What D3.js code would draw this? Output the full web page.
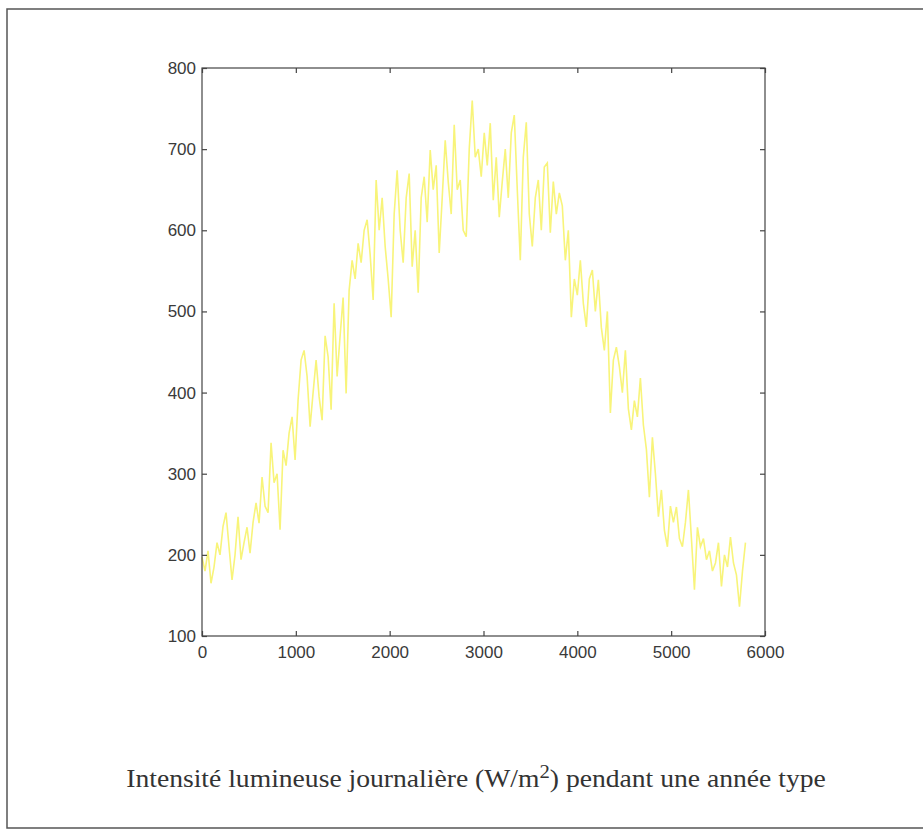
<!DOCTYPE html>
<html lang="fr">
<head>
<meta charset="UTF-8">
<title>Intensité lumineuse journalière</title>
<script src="https://d3js.org/d3.v7.min.js"></script>
<style>
  body { margin: 0; background: #fff; }
</style>
</head>
<body>
<svg id="chart" width="923" height="832"></svg>
<script>
// x step between two samples (one per day)
const xStep = 32;

// daily intensity (W/m2), 1000 units per row
const intensity0 = [197,180,205,165,185,215,200,235,252,210,169,200,247,194,215,234,202,240,264,239,296,260,252,338,289,300,231,329,310,350,370,317];
const intensity1 = [391,440,452,420,358,400,440,395,366,470,444,379,510,420,470,517,399,526,563,540,584,560,600,613,570,514,662,600,640,580,540,493];
const intensity2 = [620,674,600,560,640,670,555,600,523,640,666,610,699,650,680,572,640,711,660,620,730,650,662,600,592,700,760,690,700,666,720,680];
const intensity3 = [732,637,690,616,660,700,640,720,742,650,563,690,733,620,580,640,662,600,678,683,597,660,620,646,630,563,600,493,540,520,563,510];
const intensity4 = [481,540,551,500,539,480,452,500,375,440,456,432,400,452,380,354,390,370,418,360,330,271,345,300,247,280,230,210,260,240,259,220];
const intensity5 = [210,240,280,220,157,234,210,220,194,205,180,190,215,161,200,185,222,190,175,136,180,215];

const xTicks = [0, 1000, 2000, 3000, 4000, 5000, 6000];
const yTicks = [100, 200, 300, 400, 500, 600, 700, 800];

const values = [].concat(intensity0, intensity1, intensity2, intensity3, intensity4, intensity5);
const data = values.map((v, i) => ({ x: i * xStep, y: v }));

const svg = d3.select('#chart');
const margin = { top: 68, right: 158, bottom: 196, left: 202 };
const width = 923 - margin.left - margin.right;
const height = 832 - margin.top - margin.bottom;

// outer frame of the scanned figure (right side is cut off)
svg.append('rect')
    .attr('x', 7).attr('y', 9)
    .attr('width', 940).attr('height', 819)
    .attr('fill', 'none')
    .attr('stroke', '#555')
    .attr('stroke-width', 1.5);

const x = d3.scaleLinear().domain([0, 6000]).range([margin.left, margin.left + width]);
const y = d3.scaleLinear().domain([100, 800]).range([margin.top + height, margin.top]);

// the line
const line = d3.line().x(d => x(d.x)).y(d => y(d.y));
svg.append('path')
    .datum(data)
    .attr('fill', 'none')
    .attr('stroke', '#f8f47a')
    .attr('stroke-width', 1.6)
    .attr('d', line);

// matlab-like box with inward ticks
const tickLen = 5;
const axisColor = '#444';

svg.append('rect')
    .attr('x', margin.left).attr('y', margin.top)
    .attr('width', width).attr('height', height)
    .attr('fill', 'none')
    .attr('stroke', axisColor)
    .attr('stroke-width', 1.2);

const bottomAxis = svg.append('g')
    .attr('transform', `translate(0,${margin.top + height})`)
    .call(d3.axisBottom(x).tickValues(xTicks).tickSizeInner(-tickLen).tickSizeOuter(0).tickPadding(10).tickFormat(d3.format('d')));

const topAxis = svg.append('g')
    .attr('transform', `translate(0,${margin.top})`)
    .call(d3.axisTop(x).tickValues(xTicks).tickSizeInner(-tickLen).tickSizeOuter(0).tickFormat(''));

const leftAxis = svg.append('g')
    .attr('transform', `translate(${margin.left},0)`)
    .call(d3.axisLeft(y).tickValues(yTicks).tickSizeInner(-tickLen).tickSizeOuter(0).tickPadding(6).tickFormat(d3.format('d')));

const rightAxis = svg.append('g')
    .attr('transform', `translate(${margin.left + width},0)`)
    .call(d3.axisRight(y).tickValues(yTicks).tickSizeInner(-tickLen).tickSizeOuter(0).tickFormat(''));

[bottomAxis, topAxis, leftAxis, rightAxis].forEach(g => {
    g.select('.domain').remove();
    g.selectAll('line').attr('stroke', axisColor).attr('stroke-width', 1.2);
    g.selectAll('text')
        .attr('fill', '#3a3a3a')
        .style('font-family', "'Liberation Sans', Arial, sans-serif")
        .style('font-size', '17px');
});

// caption under the chart: tall but narrow Times, like the scan
const captionX = 476;
const capSize = 25;
const caption = svg.append('text')
    .attr('x', captionX)
    .attr('y', 787)
    .attr('text-anchor', 'middle')
    .attr('fill', '#333')
    .style('font-family', "'Liberation Serif', 'Times New Roman', serif")
    .style('font-size', capSize + 'px');
caption.append('tspan').text('Intensité lumineuse journalière (W/m');
caption.append('tspan').attr('dy', -9).style('font-size', (capSize * 0.75) + 'px').text('2');
caption.append('tspan').attr('dy', 9).text(') pendant une année type');

// squeeze it horizontally to the width it has in the scan
const wanted = 700;
const got = caption.node().getComputedTextLength();
const sx = wanted / got;
caption.attr('transform', `translate(${captionX},0) scale(${sx},1) translate(${-captionX},0)`);
</script>
</body>
</html>
